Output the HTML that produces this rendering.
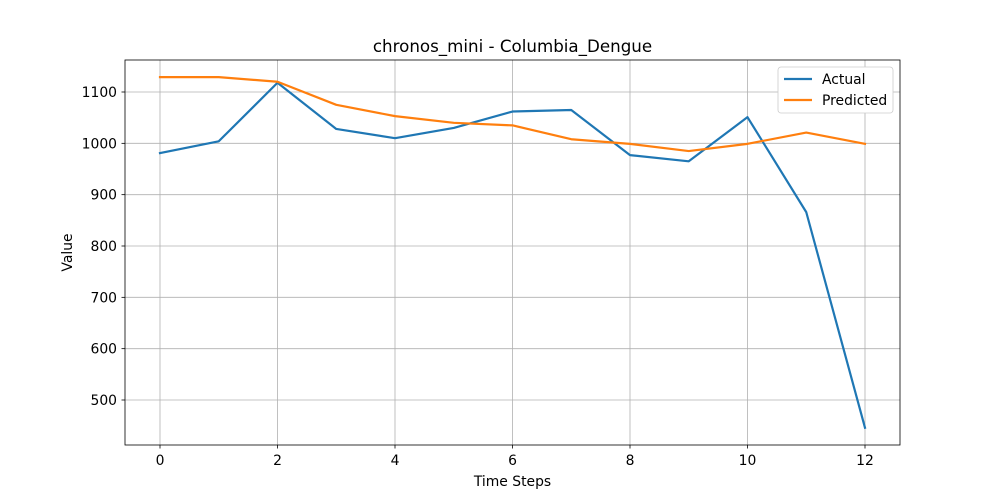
<!DOCTYPE html>
<html><head><meta charset="utf-8"><style>
body{margin:0;background:#fff;}
svg{display:block;font-family:"DejaVu Sans","Liberation Sans",sans-serif;}
</style></head><body>
<svg id="chart" width="1000" height="500"></svg>
<script>
const steps=[0,1,2,3,4,5,6,7,8,9,10,11,12];
const actual=[981,1004,1118,1028,1010,1030,1062,1065,977,965,1051,866,446];
const predicted=[1129,1129,1120,1075,1053,1040,1035,1008,999,985,999,1021,999];
const xTicks=[0,2,4,6,8,10,12];
const yTicks=[500,600,700,800,900,1000,1100];
const L=125,R=900,T=60,B=445;
const xS=v=>160+v*(865-160)/12;
const yS=v=>92+(1100-v)*(308/600);
const svg=document.getElementById('chart');
const NS='http://www.w3.org/2000/svg';
function mk(tag,attrs,parent){const e=document.createElementNS(NS,tag);for(const k in attrs)e.setAttribute(k,attrs[k]);(parent||svg).appendChild(e);return e;}
const grid=mk('g',{});


xTicks.forEach(t=>{
  const x=xS(t);
  mk('line',{x1:x,x2:x,y1:T,y2:B,stroke:'#b0b0b0','stroke-width':0.8},grid);
  mk('line',{x1:x,x2:x,y1:B,y2:B+3.5,stroke:'#000','stroke-width':0.8});
  const tx=mk('text',{x:x,y:B+20,'text-anchor':'middle','font-size':13.9});
  tx.textContent=t;
  
  
});
yTicks.forEach(t=>{
  const y=yS(t);
  mk('line',{x1:L,x2:R,y1:y,y2:y,stroke:'#b0b0b0','stroke-width':0.8},grid);
  mk('line',{x1:L-3.5,x2:L,y1:y,y2:y,stroke:'#000','stroke-width':0.8});
  const tx=mk('text',{x:L-8,y:y+5,'text-anchor':'end','font-size':13.9});
  tx.textContent=t;
  
  
});
function series(vals,color,name){
  const p=mk('polyline',{points:vals.map((v,i)=>xS(steps[i])+','+yS(v)).join(' '),fill:'none',stroke:color,'stroke-width':2.2,'stroke-linejoin':'round','stroke-linecap':'square'});
  
  
}
series(actual,'#1f77b4','actual-line');
series(predicted,'#ff7f0e','predicted-line');
const frame=mk('rect',{x:L,y:T,width:R-L,height:B-T,fill:'none',stroke:'#000','stroke-width':0.8});


const title=mk('text',{x:(L+R)/2,y:52,'text-anchor':'middle','font-size':16.7});
title.textContent='chronos_mini - Columbia_Dengue';


const xl=mk('text',{x:(L+R)/2,y:486,'text-anchor':'middle','font-size':13.9});
xl.textContent='Time Steps';


const yl=mk('text',{x:72,y:(T+B)/2,'text-anchor':'middle','font-size':13.9,transform:'rotate(-90 72 '+((T+B)/2)+')'});
yl.textContent='Value';


const lg=mk('g',{});


mk('rect',{x:778,y:67,width:115,height:46,rx:3,fill:'#fff',stroke:'#ccc','stroke-width':0.8},lg);
[['Actual','#1f77b4',79],['Predicted','#ff7f0e',100]].forEach(([n,c,y])=>{
  mk('line',{x1:784,x2:812,y1:y,y2:y,stroke:c,'stroke-width':2.2},lg);
  const t=mk('text',{x:822,y:y+5,'font-size':13.9},lg);
  t.textContent=n;
  
  
});
</script>
</body></html>
